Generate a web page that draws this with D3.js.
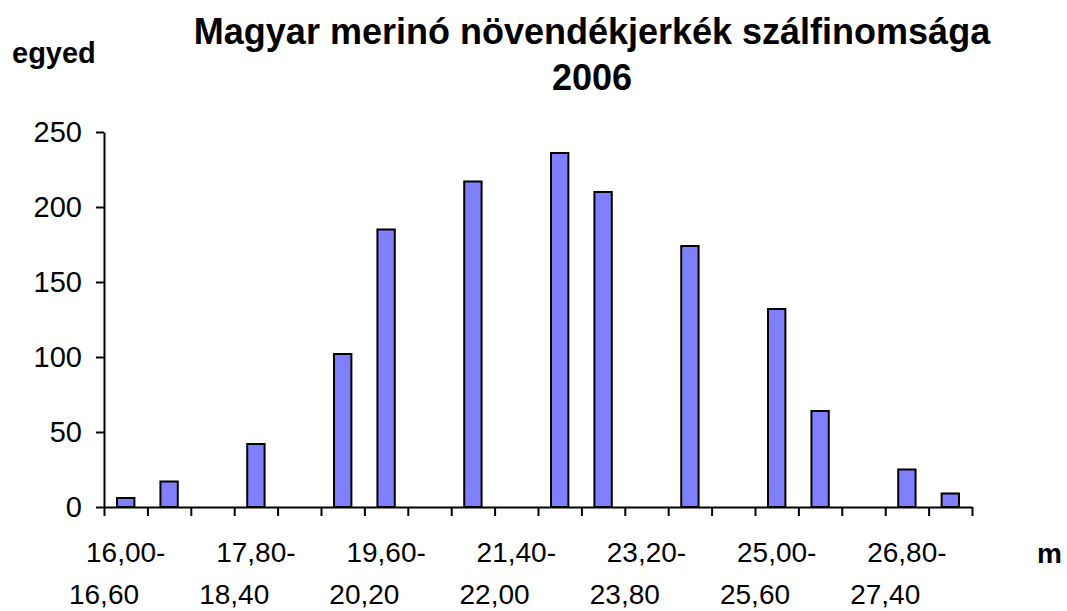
<!DOCTYPE html>
<html>
<head>
<meta charset="utf-8">
<script src="https://cdn.jsdelivr.net/npm/d3@7"></script>
<style>
  body { margin: 0; background: #fff; }
  text { font-family: Arial, "Liberation Sans", sans-serif; fill: #000; }
</style>
</head>
<body>
<script>
const width = 1067;
const height = 611;

const titleLines = ["Magyar merinó növendékjerkék szálfinomsága", "2006"];
const yTitle = "egyed";
const xTitle = "m";

// fibre diameter classes (µm)
const lowerBounds = ["16,00", "16,60", "17,20", "17,80", "18,40", "19,00", "19,60", "20,20", "20,80", "21,40",
                     "22,00", "22,60", "23,20", "23,80", "24,40", "25,00", "25,60", "26,20", "26,80", "27,40"];
const upperBounds = ["16,60", "17,20", "17,80", "18,40", "19,00", "19,60", "20,20", "20,80", "21,40", "22,00",
                     "22,60", "23,20", "23,80", "24,40", "25,00", "25,60", "26,20", "26,80", "27,40", "28,00"];
// number of animals per class (empty classes are null)
const counts = [6, 17, null, 42, null, 102, 185, null, 217, null,
                236, 210, null, 174, null, 132, 64, null, 25, 9];
const yTicks = [0, 50, 100, 150, 200, 250];
const labelEvery = 3;

const categories = lowerBounds.map((d, i) => `${d}-${upperBounds[i]}`);

const svg = d3.select("body")
  .append("svg")
  .attr("width", width)
  .attr("height", height);

const plotLeft = 104, plotRight = 972, plotTop = 132, plotBottom = 507;

const x = d3.scaleBand()
  .domain(categories)
  .range([plotLeft, plotRight])
  .paddingInner(0.6)
  .paddingOuter(0.3);

const xEdge = d3.scaleLinear()
  .domain([0, categories.length])
  .range([plotLeft, plotRight]);

const y = d3.scaleLinear()
  .domain([0, 250])
  .range([plotBottom, plotTop]);

// bars
svg.append("g")
  .selectAll("rect")
  .data(categories.map((c, i) => ({ c, v: counts[i] })).filter(d => d.v != null))
  .join("rect")
  .attr("x", d => x(d.c))
  .attr("y", d => y(d.v))
  .attr("width", x.bandwidth())
  .attr("height", d => y(0) - y(d.v))
  .attr("fill", "#8080ff")
  .attr("stroke", "#000")
  .attr("stroke-width", 2);

// y axis
const yAxis = svg.append("g")
  .attr("transform", `translate(${plotLeft},0)`)
  .call(d3.axisLeft(y).tickValues(yTicks).tickSize(8).tickSizeOuter(0).tickPadding(14));
yAxis.selectAll("path, line").attr("stroke", "#000").attr("stroke-width", 2);
yAxis.selectAll("text").attr("font-size", "29px").attr("font-family", null);

// x axis (ticks on class boundaries)
const xAxis = svg.append("g")
  .attr("transform", `translate(0,${plotBottom})`)
  .call(d3.axisBottom(xEdge).tickValues(d3.range(categories.length + 1)).tickSize(9).tickSizeOuter(0).tickFormat(""));
xAxis.selectAll("path, line").attr("stroke", "#000").attr("stroke-width", 2);

// category labels, every third class
const shown = categories.map((c, i) => ({ c, i })).filter(d => d.i % labelEvery === 0);
const labels = svg.append("g").attr("font-size", "28px");
labels.selectAll("text.l1")
  .data(shown)
  .join("text")
  .attr("class", "l1")
  .attr("x", d => x(d.c) + x.bandwidth() / 2)
  .attr("y", 562)
  .attr("text-anchor", "middle")
  .text(d => lowerBounds[d.i] + "-");
labels.selectAll("text.l2")
  .data(shown)
  .join("text")
  .attr("class", "l2")
  .attr("x", d => xEdge(d.i))
  .attr("y", 604)
  .attr("text-anchor", "middle")
  .text(d => upperBounds[d.i]);

// titles
svg.append("text")
  .attr("x", 592)
  .attr("text-anchor", "middle")
  .attr("font-size", "36px")
  .attr("font-weight", "bold")
  .selectAll("tspan")
  .data(titleLines)
  .join("tspan")
  .attr("x", 592)
  .attr("y", (d, i) => i === 0 ? 44 : 90)
  .text(d => d);

svg.append("text")
  .attr("x", 12)
  .attr("y", 63)
  .attr("font-size", "29px")
  .attr("font-weight", "bold")
  .text(yTitle);

svg.append("text")
  .attr("x", 1037)
  .attr("y", 563)
  .attr("font-size", "28px")
  .attr("font-weight", "bold")
  .text(xTitle);
</script>
</body>
</html>
